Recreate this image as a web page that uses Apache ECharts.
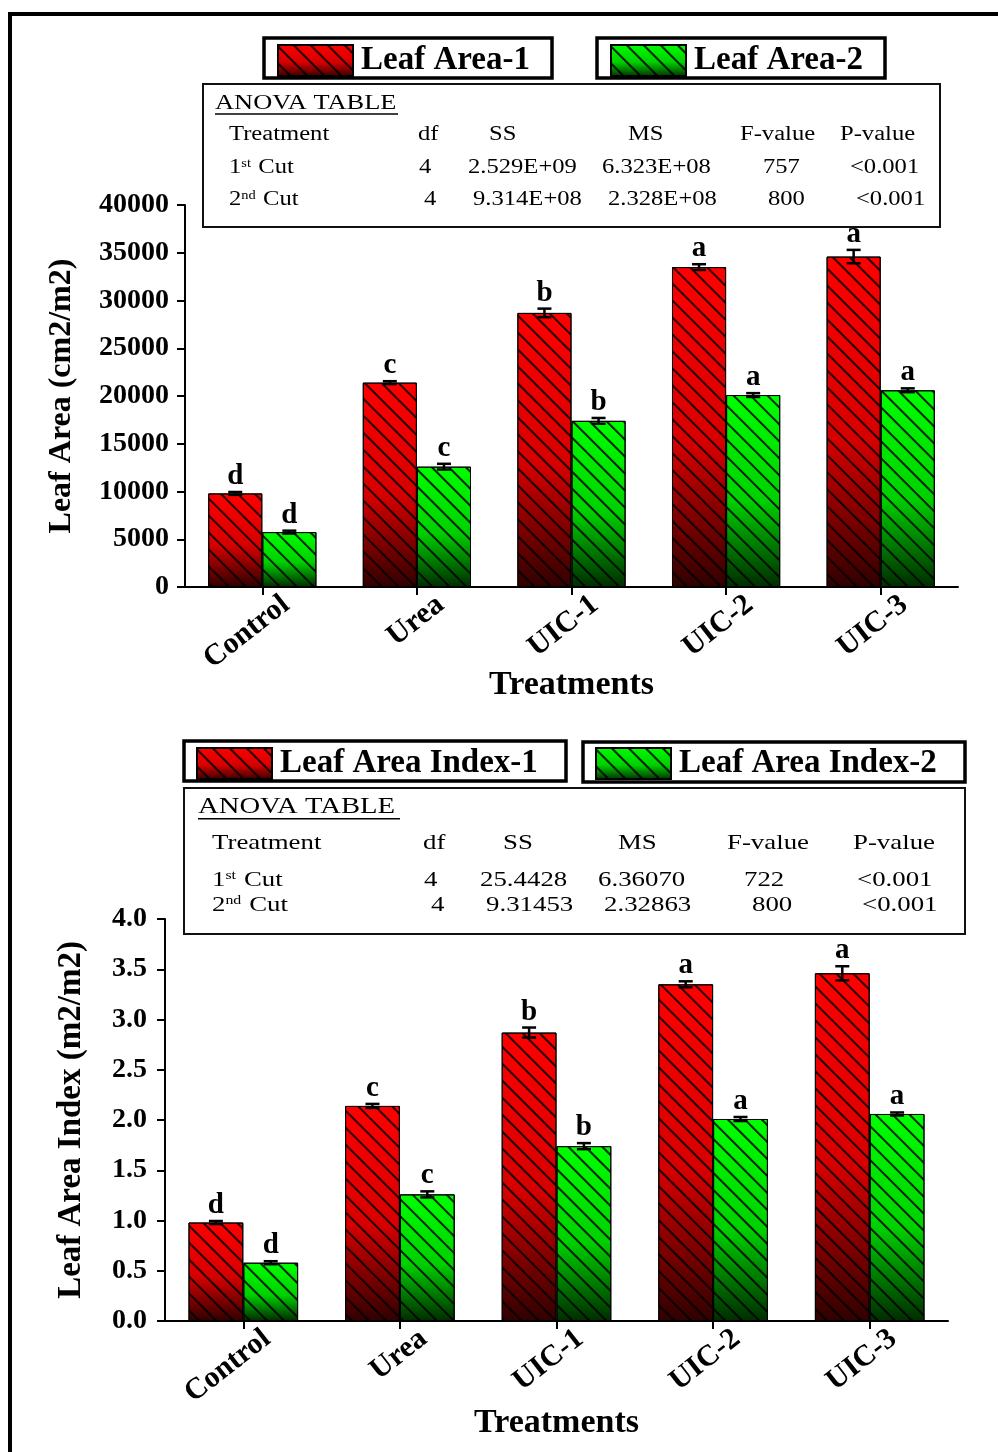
<!DOCTYPE html>
<html>
<head>
<meta charset="utf-8">
<title>Leaf Area and Leaf Area Index by Treatment</title>
<script src="https://cdn.jsdelivr.net/npm/echarts@6/dist/echarts.min.js"></script>
<style>
  html, body { margin: 0; padding: 0; background: #ffffff; }
  #chart { width: 998px; height: 1452px; }
</style>
</head>
<body>
<div id="chart"></div>
<script>
// ---- data ----
const categories = ['Control', 'Urea', 'UIC-1', 'UIC-2', 'UIC-3'];

const leafArea1 = [9800, 21400, 28700, 33500, 34600];
const leafArea1Err = [150, 150, 450, 300, 700];
const leafArea1Sig = ['d', 'c', 'b', 'a', 'a'];
const leafArea2 = [5750, 12600, 17400, 20100, 20600];
const leafArea2Err = [150, 300, 300, 200, 200];
const leafArea2Sig = ['d', 'c', 'b', 'a', 'a'];

const lai1 = [0.98, 2.14, 2.87, 3.35, 3.46];
const lai1Err = [0.015, 0.02, 0.05, 0.03, 0.07];
const lai1Sig = ['d', 'c', 'b', 'a', 'a'];
const lai2 = [0.58, 1.26, 1.74, 2.01, 2.06];
const lai2Err = [0.015, 0.03, 0.03, 0.02, 0.015];
const lai2Sig = ['d', 'c', 'b', 'a', 'a'];

const anovaHeader = ['Treatment', 'df', 'SS', 'MS', 'F-value', 'P-value'];
const anovaLeafArea = [
  ['1st Cut', '4', '2.529E+09', '6.323E+08', '757', '<0.001'],
  ['2nd Cut', '4', '9.314E+08', '2.328E+08', '800', '<0.001']
];
const anovaLAI = [
  ['1st Cut', '4', '25.4428', '6.36070', '722', '<0.001'],
  ['2nd Cut', '4', '9.31453', '2.32863', '800', '<0.001']
];

// ---- styles ----
const SERIF = "'Liberation Serif', 'Times New Roman', serif";

function barFill(top, mid, bottom) {
  return new echarts.graphic.LinearGradient(0, 0, 0, 1, [
    { offset: 0, color: top },
    { offset: 0.55, color: mid },
    { offset: 1, color: bottom }
  ]);
}
const hatch = {
  symbol: 'rect',
  symbolSize: 1,
  color: 'rgba(0,0,0,0.85)',
  dashArrayX: [1, 0],
  dashArrayY: [1.2, 10],
  rotation: Math.PI / 4
};
const redStyle = {
  color: barFill('#ff0000', '#d60000', '#300000'),
  borderColor: '#000', borderWidth: 1, decal: hatch
};
const greenStyle = {
  color: barFill('#00ff00', '#00d000', '#002c00'),
  borderColor: '#000', borderWidth: 1, decal: hatch
};

// error bars and significance letters, centred over one bar of the pair
function errorSeries(name, gridIdx, values, errs, letters, side) {
  return {
    type: 'custom',
    name: name,
    xAxisIndex: gridIdx,
    yAxisIndex: gridIdx,
    z: 5,
    silent: true,
    data: values.map((v, i) => [i, v, errs[i]]),
    renderItem: function (params, api) {
      const ci = api.value(0), v = api.value(1), e = api.value(2);
      const band = api.size([1, 0])[0];
      const bw = band * 0.35;
      const x = api.coord([ci, 0])[0] + side * bw / 2;
      const yHi = api.coord([ci, v + e])[1];
      const yLo = api.coord([ci, v - e])[1];
      const cap = 7;
      const ls = { stroke: '#000', lineWidth: 2.5 };
      return {
        type: 'group',
        children: [
          { type: 'line', shape: { x1: x, y1: yHi, x2: x, y2: yLo }, style: ls },
          { type: 'line', shape: { x1: x - cap, y1: yHi, x2: x + cap, y2: yHi }, style: ls },
          { type: 'line', shape: { x1: x - cap, y1: yLo, x2: x + cap, y2: yLo }, style: ls },
          {
            type: 'text',
            x: x, y: yHi - 1,
            style: {
              text: letters[params.dataIndex],
              fontFamily: SERIF, fontWeight: 'bold', fontSize: 29,
              fill: '#000', align: 'center', verticalAlign: 'bottom'
            }
          }
        ]
      };
    }
  };
}

// ANOVA summary box drawn with graphic elements
function supText(s) {
  return s.replace(/^(\d)(st|nd|rd|th)/, '$1{sup|$2}');
}
function anovaBox(box, titlePos, rowY, colX, rows, fontSize, sx) {
  const els = [];
  const titleSize = fontSize + 1.5;
  els.push({
    type: 'rect',
    shape: { x: box.x, y: box.y, width: box.w, height: box.h },
    style: { fill: '#fff', stroke: '#111', lineWidth: 2 }
  });
  els.push({
    type: 'text', x: titlePos.x, y: titlePos.y, scaleX: sx,
    style: { text: 'ANOVA TABLE', fontFamily: SERIF, fontSize: titleSize, fill: '#000', verticalAlign: 'middle' }
  });
  els.push({
    type: 'line',
    shape: { x1: titlePos.x, y1: titlePos.y + titleSize * 0.5, x2: titlePos.x + titlePos.w, y2: titlePos.y + titleSize * 0.5 },
    style: { stroke: '#000', lineWidth: 1.5 }
  });
  const allRows = [anovaHeader].concat(rows);
  allRows.forEach(function (row, r) {
    row.forEach(function (cell, c) {
      els.push({
        type: 'text', x: colX[r][c], y: rowY[r], scaleX: sx,
        style: {
          text: supText(cell), fontFamily: SERIF, fontSize: fontSize, fill: '#000',
          verticalAlign: 'middle',
          rich: { sup: { fontSize: Math.round(fontSize * 0.6), fontFamily: SERIF, verticalAlign: 'top', padding: [0, 1, 0, 0] } }
        }
      });
    });
  });
  return els;
}

function legendBox(x, y, w, h) {
  return {
    type: 'rect',
    shape: { x: x, y: y, width: w, height: h },
    style: { fill: '#fff', stroke: '#000', lineWidth: 3.5 },
    z: -1
  };
}

function legendAt(name, left, top, fontSize) {
  return {
    data: [name],
    left: left, top: top,
    orient: 'horizontal',
    padding: 0,
    itemWidth: 75, itemHeight: 31,
    icon: 'rect',
    selectedMode: false,
    textStyle: { fontFamily: SERIF, fontWeight: 'bold', fontSize: fontSize, color: '#000', padding: [0, 0, 0, 3] }
  };
}

const axisLineStyle = { lineStyle: { color: '#000', width: 2 } };
const tickStyle = { show: true, length: 8, lineStyle: { color: '#000', width: 2 } };

function catAxis(gridIdx, nameGap) {
  return {
    type: 'category',
    gridIndex: gridIdx,
    data: categories,
    boundaryGap: true,
    axisLine: axisLineStyle,
    axisTick: Object.assign({ alignWithLabel: true }, tickStyle),
    axisLabel: {
      rotate: 38, margin: 33, color: '#000',
      fontFamily: SERIF, fontWeight: 'bold', fontSize: 30,
      padding: [0, -30, 0, 0]
    },
    name: 'Treatments',
    nameLocation: 'middle',
    nameGap: nameGap,
    nameMoveOverlap: false,
    nameTextStyle: { fontFamily: SERIF, fontWeight: 'bold', fontSize: 34, color: '#000' },
    splitLine: { show: false }
  };
}

const chart = echarts.init(document.getElementById('chart'), null, { renderer: 'canvas' });

const graphics = [
  // outer frame
  { type: 'rect', shape: { x: 10, y: 14, width: 1100, height: 1600 }, style: { fill: 'none', stroke: '#000', lineWidth: 4 }, z: -2 },
  legendBox(264, 38, 288, 40),
  legendBox(597, 38, 288, 40),
  legendBox(184, 741, 382, 40),
  legendBox(583, 742, 382, 40)
].concat(
  anovaBox({ x: 203, y: 84, w: 737, h: 143 }, { x: 215, y: 103, w: 183 },
    [135, 168, 200],
    [[229, 418, 489, 628, 740, 840],
     [229, 419, 468, 602, 763, 850],
     [229, 424, 473, 608, 768, 856]],
    anovaLeafArea, 20.5, 1.2),
  anovaBox({ x: 184, y: 788, w: 781, h: 146 }, { x: 198, y: 807, w: 202 },
    [843, 880, 905],
    [[212, 423, 503, 618, 727, 853],
     [212, 424, 480, 598, 744, 857],
     [212, 431, 486, 604, 752, 862]],
    anovaLAI, 22, 1.22)
);

const option = {
  backgroundColor: '#ffffff',
  animation: false,
  legend: [
    legendAt('Leaf Area-1', 277, 44, 33),
    legendAt('Leaf Area-2', 610, 44, 33),
    legendAt('Leaf Area Index-1', 196, 747, 33),
    legendAt('Leaf Area Index-2', 595, 747, 33)
  ],
  grid: [
    { left: 185, top: 205, width: 773, height: 382, containLabel: false },
    { left: 165, top: 919, width: 783, height: 402, containLabel: false }
  ],
  xAxis: [catAxis(0, 81), catAxis(1, 85)],
  yAxis: [
    {
      type: 'value', gridIndex: 0, min: 0, max: 40000, interval: 5000,
      axisLine: Object.assign({ show: true }, axisLineStyle),
      axisTick: tickStyle,
      splitLine: { show: false },
      axisLabel: {
        margin: 16, color: '#000', fontFamily: SERIF, fontWeight: 'bold', fontSize: 28,
        formatter: function (v) { return String(v); }
      },
      name: 'Leaf Area (cm2/m2)', nameLocation: 'middle', nameGap: 107,
      nameMoveOverlap: false,
      nameTextStyle: { fontFamily: SERIF, fontWeight: 'bold', fontSize: 32, color: '#000' }
    },
    {
      type: 'value', gridIndex: 1, min: 0, max: 4, interval: 0.5,
      axisLine: Object.assign({ show: true }, axisLineStyle),
      axisTick: tickStyle,
      splitLine: { show: false },
      axisLabel: {
        margin: 18, color: '#000', fontFamily: SERIF, fontWeight: 'bold', fontSize: 28,
        formatter: function (v) { return v.toFixed(1); }
      },
      name: 'Leaf Area Index (m2/m2)', nameLocation: 'middle', nameGap: 77,
      nameMoveOverlap: false,
      nameTextStyle: { fontFamily: SERIF, fontWeight: 'bold', fontSize: 33, color: '#000' }
    }
  ],
  series: [
    { type: 'bar', name: 'Leaf Area-1', xAxisIndex: 0, yAxisIndex: 0, data: leafArea1, barGap: '0%', barCategoryGap: '30%', itemStyle: redStyle },
    { type: 'bar', name: 'Leaf Area-2', xAxisIndex: 0, yAxisIndex: 0, data: leafArea2, barGap: '0%', barCategoryGap: '30%', itemStyle: greenStyle },
    { type: 'bar', name: 'Leaf Area Index-1', xAxisIndex: 1, yAxisIndex: 1, data: lai1, barGap: '0%', barCategoryGap: '30%', itemStyle: redStyle },
    { type: 'bar', name: 'Leaf Area Index-2', xAxisIndex: 1, yAxisIndex: 1, data: lai2, barGap: '0%', barCategoryGap: '30%', itemStyle: greenStyle },
    errorSeries('Leaf Area-1 SE', 0, leafArea1, leafArea1Err, leafArea1Sig, -1),
    errorSeries('Leaf Area-2 SE', 0, leafArea2, leafArea2Err, leafArea2Sig, 1),
    errorSeries('Leaf Area Index-1 SE', 1, lai1, lai1Err, lai1Sig, -1),
    errorSeries('Leaf Area Index-2 SE', 1, lai2, lai2Err, lai2Sig, 1)
  ],
  graphic: graphics
};

chart.setOption(option);
</script>
</body>
</html>
